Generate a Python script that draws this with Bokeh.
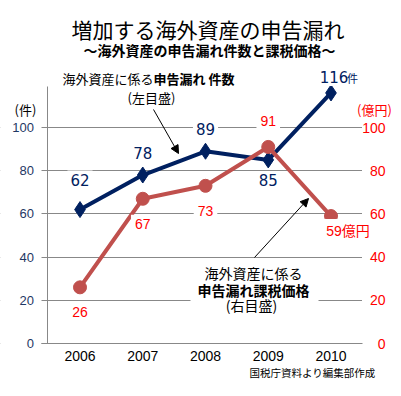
from bokeh.plotting import figure
from bokeh.models import (ColumnDataSource, Range1d, LinearAxis, FixedTicker, Grid, Label,
                          Arrow, NormalHead, BoxAnnotation)
from bokeh.core.properties import value
from bokeh.embed import file_html
from bokeh.resources import INLINE

# ---- data ----
years = [2006, 2007, 2008, 2009, 2010]
case_counts = [62, 78, 89, 85, 116]          # 申告漏れ件数 (件, left axis)
tax_values = [26, 67, 73, 91, 59]            # 申告漏れ課税価格 (億円, right axis)
count_labels = ["62", "78", "89", "85", "116"]
value_labels = ["26", "67", "73", "91", "59億円"]
y_ticks = [0, 20, 40, 60, 80, 100]

NAVY = "#002060"
RED_LINE = "#C0504D"
RED_TXT = "#FF0000"
GRID = "#888888"
JP = "Noto Sans CJK JP"

# ---- layout helpers (page px -> data coords) ----
W, H = 401, 396
X0, XSTEP = 79.5, 62.75      # page x of first year, px per year
Y0, YPX = 343, 2.16          # page y of value 0, px per unit


def dx(page_x):
    return years[0] + (page_x - X0) / XSTEP


def dy(page_y):
    return (Y0 - page_y) / YPX


p = figure(width=W, height=H, x_range=Range1d(dx(0), dx(W)), y_range=Range1d(dy(H), dy(0)),
           output_backend="svg", toolbar_location=None,
           x_axis_location=None, y_axis_location=None,
           min_border_left=0, min_border_right=0, min_border_top=0, min_border_bottom=0)
p.outline_line_color = None
p.background_fill_color = "white"
p.border_fill_color = "white"
p.center = []

ticker = FixedTicker(ticks=y_ticks)

p.add_layout(Grid(dimension=1, ticker=ticker, grid_line_color=GRID, grid_line_width=1))
# keep the grid inside the plot area
for l, r in [(0, 46.5), (361.5, W)]:
    p.add_layout(BoxAnnotation(left=dx(l), right=dx(r), top=dy(0), bottom=dy(H),
                               fill_color="white", fill_alpha=1.0, line_color=None,
                               level="underlay"))
# white area behind the lower annotation
p.add_layout(BoxAnnotation(left=dx(190), right=dx(318), top=dy(259), bottom=dy(318),
                           fill_color="white", fill_alpha=1.0, line_color=None,
                           level="underlay"))

left = LinearAxis(ticker=ticker, bounds=(0, 119), fixed_location=dx(46.5))
left.axis_line_color = GRID
left.major_tick_line_color = GRID
left.major_tick_out = 6
left.major_tick_in = 0
left.minor_tick_line_color = None
left.major_label_standoff = 7
left.major_label_text_font = "Liberation Sans"
left.major_label_text_font_size = "13px"
left.major_label_text_color = "#1F3864"
p.add_layout(left, "left")

# secondary (億円) scale: labels right-aligned at the right edge of the chart
right = LinearAxis(ticker=ticker, fixed_location=dx(386))
right.axis_line_color = None
right.major_tick_line_color = None
right.minor_tick_line_color = None
right.major_tick_out = 0
right.major_tick_in = 0
right.major_label_standoff = 1
right.major_label_text_font = "Liberation Sans"
right.major_label_text_font_size = "14px"
right.major_label_text_color = RED_TXT
p.add_layout(right, "left")

bottom = LinearAxis(ticker=FixedTicker(ticks=years), fixed_location=0,
                    bounds=(dx(41), dx(362)))
bottom.axis_line_color = GRID
bottom.major_tick_line_color = None
bottom.minor_tick_line_color = None
bottom.major_label_standoff = 1
bottom.major_label_text_font = "Liberation Sans"
bottom.major_label_text_font_size = "14px"
bottom.major_label_text_color = "black"
p.add_layout(bottom, "below")

# ---- series ----
p.line(x=years, y=case_counts, line_color=NAVY, line_width=4)
p.scatter(x=years, y=case_counts, marker="diamond", size=16, color=NAVY)
p.line(x=years, y=tax_values, line_color=RED_LINE, line_width=4)
p.scatter(x=years, y=tax_values, marker="circle", size=13, color=RED_LINE)

src_c = ColumnDataSource(dict(x=years, y=case_counts, text=count_labels,
                              xo=[0, 0, 0, 0, 3], yo=[-30, -22, -22, 20, -16]))
p.text(x="x", y="y", text="text", x_offset="xo", y_offset="yo", source=src_c,
       text_font=value("DejaVu Sans"), text_font_size="15px", text_color=NAVY,
       text_align="center", text_baseline="middle",
       background_fill_color="white", padding=3)

src_v = ColumnDataSource(dict(x=years, y=tax_values, text=value_labels,
                              xo=[0, 0, 0, 0, 17], yo=[25, 25, 25, -26, 15]))
p.text(x="x", y="y", text="text", x_offset="xo", y_offset="yo", source=src_v,
       text_font=value("Liberation Sans, Noto Sans CJK JP"), text_font_size="14px",
       text_color=RED_TXT, text_align="center", text_baseline="middle",
       background_fill_color="white", padding=4)


# ---- texts ----
def lab(px, py, text, size, color="black", bold=False, align="center", font=JP):
    p.add_layout(Label(x=dx(px), y=dy(py), text=text, text_font=font,
                       text_font_size=f"{size}px", text_color=color,
                       text_font_style="bold" if bold else "normal",
                       text_align=align, text_baseline="middle"))


lab(207.5, 28, "増加する海外資産の申告漏れ", 21)
lab(209, 49, "～海外資産の申告漏れ件数と課税価格～", 14, bold=True)
lab(153, 78, "海外資産に係る", 13, align="right")
lab(153, 78, "申告漏れ 件数", 13, bold=True, align="left")
lab(151, 97, "(左目盛)", 13)
lab(352, 77, "件", 11, color=NAVY)
lab(253, 272, "海外資産に係る", 14)
lab(253, 289, "申告漏れ課税価格", 14, bold=True)
lab(251, 304, "(右目盛)", 14)
lab(25, 109, "(件)", 13)
lab(374, 109, "(億円)", 13, color=RED_TXT)
lab(312, 372, "国税庁資料より編集部作成", 10.5)

# ---- arrows ----
for xs, ys, xe, ye in [(153, 109, 178, 153), (254, 257, 308, 198)]:
    p.add_layout(Arrow(end=NormalHead(size=8, fill_color="black", line_color="black",
                                      line_width=1),
                       x_start=dx(xs), y_start=dy(ys), x_end=dx(xe), y_end=dy(ye),
                       line_color="black", line_width=1))

open("out.html", "w").write(file_html(p, INLINE))
